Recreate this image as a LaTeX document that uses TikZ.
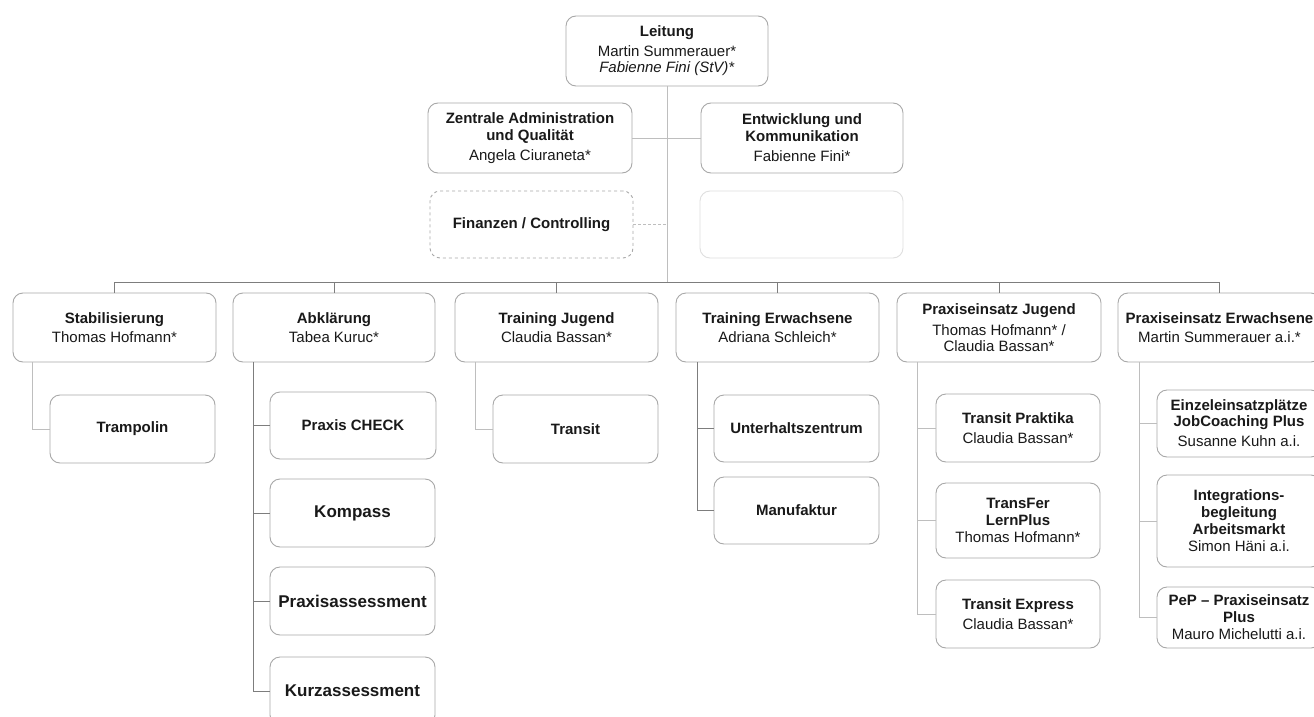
\documentclass[tikz,border=0pt]{standalone}
\usepackage{fontspec}
\setmainfont{Liberation Sans}
\definecolor{boxc}{RGB}{168,168,168}
\definecolor{linel}{RGB}{190,190,190}
\definecolor{lined}{RGB}{125,125,125}
\definecolor{txt}{RGB}{25,25,25}
\begin{document}
\begin{tikzpicture}[x=1pt,y=-1pt,
  orgbox/.style={draw=boxc,line width=0.9pt,rounded corners=10pt,align=center,
    inner sep=2pt,text=txt,font=\fontsize{15}{17}\selectfont},
  bigtxt/.style={font=\fontsize{17}{19}\selectfont},
  conl/.style={draw=linel,line width=1pt},
  cond/.style={draw=lined,line width=1pt}]
\useasboundingbox (0,0) rectangle (1314,717);
\clip (0,0) rectangle (1314,717);
\fill[white] (0,0) rectangle (1314,717);
% top level
\node[orgbox,minimum width=202pt,minimum height=70pt] (lei) at (667,51)
  {\textbf{Leitung}\\[3pt]Martin Summerauer*\\[-1pt]\textit{Fabienne Fini (StV)*}};
\node[orgbox,minimum width=204pt,minimum height=70pt] (zen) at (530,138)
  {\textbf{Zentrale Administration}\\\textbf{und Qualität}\\[3pt]Angela Ciuraneta*};
\node[orgbox,minimum width=202pt,minimum height=70pt] (ent) at (802,138)
  {\textbf{Entwicklung und}\\\textbf{Kommunikation}\\[3pt]Fabienne Fini*};
\node[orgbox,dashed,minimum width=203pt,minimum height=67pt] (fin) at (531.5,224.5)
  {\textbf{Finanzen / Controlling}};
\node[orgbox,draw=linel!50,minimum width=203pt,minimum height=67pt] (emp) at (801.5,224.5) {};
% level 2
\node[orgbox,minimum width=203pt,minimum height=69pt] (sta) at (114.5,327.5)
  {\textbf{Stabilisierung}\\[2pt]Thomas Hofmann*};
\node[orgbox,minimum width=202pt,minimum height=69pt] (abk) at (334,327.5)
  {\textbf{Abklärung}\\[2pt]Tabea Kuruc*};
\node[orgbox,minimum width=203pt,minimum height=69pt] (tju) at (556.5,327.5)
  {\textbf{Training Jugend}\\[2pt]Claudia Bassan*};
\node[orgbox,minimum width=203pt,minimum height=69pt] (ter) at (777.5,327.5)
  {\textbf{Training Erwachsene}\\[2pt]Adriana Schleich*};
\node[orgbox,minimum width=204pt,minimum height=69pt] (pju) at (999,327.5)
  {\textbf{Praxiseinsatz Jugend}\\[4pt]Thomas Hofmann* /\\[-1pt]Claudia Bassan*};
\node[orgbox,minimum width=203pt,minimum height=69pt] (per) at (1219.5,327.5)
  {\textbf{Praxiseinsatz Erwachsene}\\[2pt]Martin Summerauer a.i.*};
% level 3
\node[orgbox,minimum width=165pt,minimum height=68pt] (tra) at (132.5,429) {\textbf{Trampolin}};
\node[orgbox,minimum width=166pt,minimum height=67pt] (pch) at (353,425.5) {\textbf{Praxis CHECK}};
\node[orgbox,bigtxt,minimum width=165pt,minimum height=68pt] (kom) at (352.5,513) {\textbf{Kompass}};
\node[orgbox,bigtxt,minimum width=165pt,minimum height=68pt] (pas) at (352.5,601) {\textbf{Praxisassessment}};
\node[orgbox,bigtxt,minimum width=165pt,minimum height=68pt] (kur) at (352.5,691) {\textbf{Kurzassessment}};
\node[orgbox,minimum width=165pt,minimum height=68pt] (trn) at (575.5,429) {\textbf{Transit}};
\node[orgbox,minimum width=165pt,minimum height=67pt] (unt) at (796.5,428.5) {\textbf{Unterhaltszentrum}};
\node[orgbox,minimum width=165pt,minimum height=67pt] (man) at (796.5,510.5) {\textbf{Manufaktur}};
\node[orgbox,minimum width=164pt,minimum height=68pt] (tpr) at (1018,428)
  {\textbf{Transit Praktika}\\[3pt]Claudia Bassan*};
\node[orgbox,minimum width=164pt,minimum height=75pt] (tfl) at (1018,520.5)
  {\textbf{TransFer}\\\textbf{LernPlus}\\Thomas Hofmann*};
\node[orgbox,minimum width=164pt,minimum height=68pt] (tex) at (1018,614)
  {\textbf{Transit Express}\\[3pt]Claudia Bassan*};
\node[orgbox,minimum width=164pt,minimum height=67pt] (ein) at (1239,423.5)
  {\textbf{Einzeleinsatzplätze}\\[-1pt]\textbf{JobCoaching Plus}\\[3pt]Susanne Kuhn a.i.};
\node[orgbox,minimum width=164pt,minimum height=92pt] (int) at (1239,521)
  {\textbf{Integrations-}\\\textbf{begleitung}\\\textbf{Arbeitsmarkt}\\Simon Häni a.i.};
\node[orgbox,minimum width=164pt,minimum height=61pt] (pep) at (1239,617.5)
  {\textbf{PeP – Praxiseinsatz}\\\textbf{Plus}\\Mauro Michelutti a.i.};
% connectors top
\coordinate (bus) at (667,282);
\draw[conl] (lei.south) -- (bus);
\draw[conl] (zen.east) -- (ent.west);
\draw[conl,dashed,dash pattern=on 3pt off 2pt] (fin.east) -- (fin.east -| lei.south);
\draw[cond] (sta.north) -- (sta.north |- bus) -- (per.north |- bus) -- (per.north);
\foreach \n in {abk,tju,ter,pju} \draw[cond] (\n.north) -- (\n.north |- bus);
% connectors lower
\draw[conl] (sta.south west) ++(20,0) |- (tra.west);
\draw[cond] (abk.south west) ++(21,0) |- (pch.west);
\draw[cond] (abk.south west) ++(21,0) |- (kom.west);
\draw[cond] (abk.south west) ++(21,0) |- (pas.west);
\draw[cond] (abk.south west) ++(21,0) |- (kur.west);
\draw[conl] (tju.south west) ++(21,0) |- (trn.west);
\draw[cond] (ter.south west) ++(22,0) |- (unt.west);
\draw[cond] (ter.south west) ++(22,0) |- (man.west);
\draw[conl] (pju.south west) ++(21,0) |- (tpr.west);
\draw[conl] (pju.south west) ++(21,0) |- (tfl.west);
\draw[conl] (pju.south west) ++(21,0) |- (tex.west);
\draw[conl] (per.south west) ++(22,0) |- (ein.west);
\draw[conl] (per.south west) ++(22,0) |- (int.west);
\draw[conl] (per.south west) ++(22,0) |- (pep.west);
\end{tikzpicture}
\end{document}
